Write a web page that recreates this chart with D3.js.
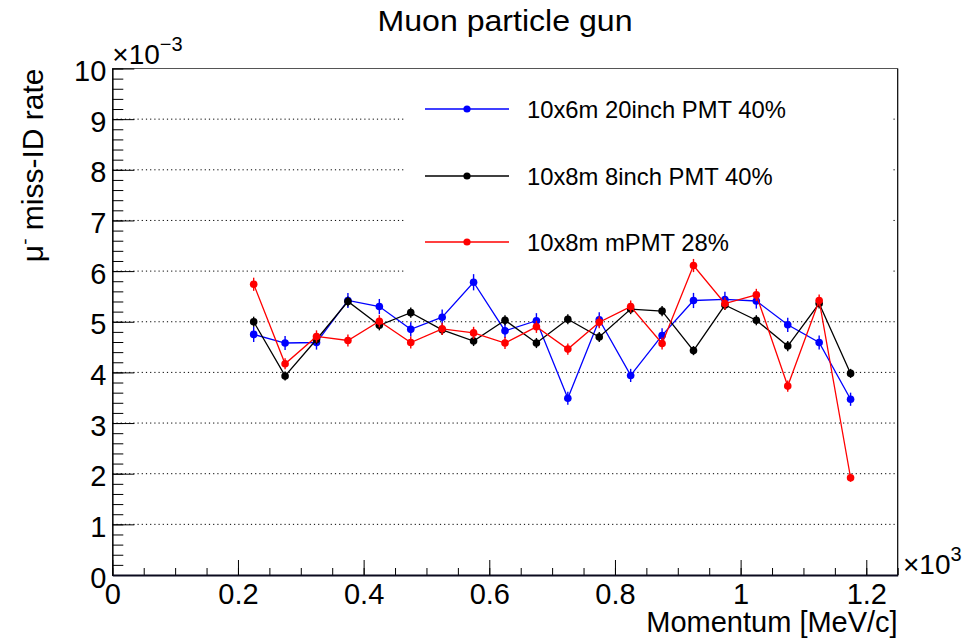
<!DOCTYPE html>
<html>
<head>
<meta charset="utf-8">
<script src="https://cdn.jsdelivr.net/npm/d3@7"></script>
<style>
body { margin: 0; background: #fff; }
text { font-family: "Liberation Sans", Helvetica, Arial, sans-serif; fill: #000; }
</style>
</head>
<body>
<div id="chart"></div>
<script>
// momentum bin centres [MeV/c]
var momentum = [225, 275, 325, 375, 425, 475, 525, 575, 625, 675,
                725, 775, 825, 875, 925, 975, 1025, 1075, 1125, 1175];

// mu- miss-ID rate, in units of 1e-3
var rate20inch = [4.75, 4.58, 4.59, 5.42, 5.30, 4.85, 5.09, 5.78, 4.82, 5.02,
                  3.49, 5.04, 3.94, 4.73, 5.42, 5.44, 5.41, 4.94, 4.59, 3.47];
var err20inch  = [0.15, 0.14, 0.14, 0.15, 0.15, 0.14, 0.15, 0.16, 0.14, 0.15,
                  0.13, 0.15, 0.13, 0.14, 0.15, 0.15, 0.15, 0.14, 0.14, 0.13];

var rate8inch  = [5.00, 3.93, 4.65, 5.40, 4.93, 5.18, 4.84, 4.62, 5.03, 4.58,
                  5.05, 4.70, 5.25, 5.21, 4.43, 5.33, 5.03, 4.52, 5.36, 3.98];
var err8inch   = [0.10, 0.09, 0.10, 0.10, 0.10, 0.10, 0.10, 0.10, 0.10, 0.10,
                  0.10, 0.10, 0.10, 0.10, 0.09, 0.10, 0.10, 0.10, 0.10, 0.09];

var rateMPMT   = [5.74, 4.17, 4.71, 4.63, 5.01, 4.59, 4.86, 4.78, 4.58, 4.90,
                  4.46, 4.99, 5.30, 4.57, 6.11, 5.36, 5.53, 3.73, 5.42, 1.92];
var errMPMT    = [0.13, 0.11, 0.12, 0.12, 0.12, 0.12, 0.12, 0.12, 0.12, 0.12,
                  0.11, 0.12, 0.12, 0.12, 0.13, 0.12, 0.12, 0.11, 0.12, 0.08];

var seriesNames  = ["10x6m 20inch PMT 40%", "10x8m 8inch PMT 40%", "10x8m mPMT 28%"];
var seriesColors = ["#0000ff", "#000000", "#ff0000"];

var xTicks = [0, 200, 400, 600, 800, 1000, 1200];
var yTicks = [0, 1, 2, 3, 4, 5, 6, 7, 8, 9, 10];

var series = [
    { name: seriesNames[0], color: seriesColors[0], y: rate20inch, e: err20inch },
    { name: seriesNames[1], color: seriesColors[1], y: rate8inch,  e: err8inch },
    { name: seriesNames[2], color: seriesColors[2], y: rateMPMT,   e: errMPMT }
];

var W = 972, H = 644;
var padL = 112.3, padR = 897.7, padT = 68.5, padB = 575;

var svg = d3.select("#chart").append("svg")
    .attr("width", W)
    .attr("height", H)
    .style("background", "#fff");

var x = d3.scaleLinear().domain([0, 1250]).range([padL, padR]);
var y = d3.scaleLinear().domain([0, 10]).range([padB, padT]);

// grid (y only, dotted)
svg.append("g").selectAll("line")
    .data(yTicks.filter(function (d) { return d > 0; }))
    .enter().append("line")
    .attr("x1", padL).attr("x2", padR)
    .attr("y1", function (d) { return y(d); })
    .attr("y2", function (d) { return y(d); })
    .attr("stroke", "#000")
    .attr("stroke-width", 1)
    .attr("stroke-dasharray", "1.2,3");

// frame top + right
svg.append("line").attr("x1", padL).attr("x2", padR).attr("y1", padT).attr("y2", padT)
    .attr("stroke", "#555").attr("stroke-width", 1);
svg.append("line").attr("x1", padR).attr("x2", padR).attr("y1", padT).attr("y2", padB)
    .attr("stroke", "#000").attr("stroke-width", 1.2);

// legend (white box, drawn under the data)
var legend = svg.append("g");
legend.append("rect")
    .attr("x", 405).attr("y", 78).attr("width", 488).attr("height", 205)
    .attr("fill", "#fff");
var legY = [109, 176, 242];
series.forEach(function (s, i) {
    legend.append("line")
        .attr("x1", 425).attr("x2", 509)
        .attr("y1", legY[i]).attr("y2", legY[i])
        .attr("stroke", s.color).attr("stroke-width", 1.3);
    legend.append("circle")
        .attr("cx", 467).attr("cy", legY[i]).attr("r", 3.6)
        .attr("fill", s.color);
    legend.append("text")
        .attr("x", 527).attr("y", legY[i])
        .attr("dy", "0.36em")
        .style("font-size", "23.8px")
        .text(s.name);
});

// axes
var yAxis = d3.axisLeft(y).tickValues(yTicks).tickSizeInner(-22).tickSizeOuter(0).tickPadding(6);
var yMinor = d3.axisLeft(y).tickValues(d3.range(0, 10.01, 0.2)).tickSizeInner(-11).tickSizeOuter(0).tickFormat("");
var xAxis = d3.axisBottom(x).tickValues(xTicks).tickSizeInner(-15).tickSizeOuter(0).tickPadding(10)
    .tickFormat(function (d) { return d3.format("~g")(d / 1000); });
var xMinor = d3.axisBottom(x).tickValues(d3.range(0, 1251, 50)).tickSizeInner(-7).tickSizeOuter(0).tickFormat("");

var gy2 = svg.append("g").attr("transform", "translate(" + padL + ",0)").call(yMinor);
var gy = svg.append("g").attr("transform", "translate(" + padL + ",0)").call(yAxis);
var gx2 = svg.append("g").attr("transform", "translate(0," + padB + ")").call(xMinor);
var gx = svg.append("g").attr("transform", "translate(0," + padB + ")").call(xAxis);

[gy, gy2, gx, gx2].forEach(function (g) {
    g.selectAll("line").attr("stroke", "#000").attr("stroke-width", 1);
    g.selectAll("text").style("font-size", "29px").attr("fill", "#000");
    g.select(".domain").attr("stroke", "#000");
});
gy.select(".domain").attr("stroke-width", 1.2);
gx.select(".domain").attr("stroke", "#0a0a1e").attr("stroke-width", 2);
gy.selectAll("text").attr("dy", "0.42em");
gx.selectAll("text").attr("dy", "0.66em");

// data
var line = d3.line()
    .x(function (d, i) { return x(momentum[i]); })
    .y(function (d) { return y(d); });

series.forEach(function (s) {
    var g = svg.append("g");
    g.append("path")
        .datum(s.y)
        .attr("d", line)
        .attr("fill", "none")
        .attr("stroke", s.color)
        .attr("stroke-width", 1.3);
    g.selectAll("line.err")
        .data(s.y)
        .enter().append("line")
        .attr("class", "err")
        .attr("x1", function (d, i) { return x(momentum[i]); })
        .attr("x2", function (d, i) { return x(momentum[i]); })
        .attr("y1", function (d, i) { return y(d + s.e[i]); })
        .attr("y2", function (d, i) { return y(d - s.e[i]); })
        .attr("stroke", s.color)
        .attr("stroke-width", 1.4);
    g.selectAll("circle")
        .data(s.y)
        .enter().append("circle")
        .attr("cx", function (d, i) { return x(momentum[i]); })
        .attr("cy", function (d) { return y(d); })
        .attr("r", 3.8)
        .attr("fill", s.color);
});

// exponent labels
var expY = svg.append("text").attr("x", padL).attr("y", 64).style("font-size", "28px");
expY.append("tspan").text("\u00d710");
expY.append("tspan").attr("dy", -13).style("font-size", "20px").text("\u22123");

var expX = svg.append("text").attr("x", 903).attr("y", 574).style("font-size", "28px");
expX.append("tspan").text("\u00d710");
expX.append("tspan").attr("dy", -13).style("font-size", "20px").text("3");

// titles
svg.append("text")
    .attr("x", 505).attr("y", 31)
    .attr("text-anchor", "middle")
    .style("font-size", "29px")
    .attr("textLength", 255)
    .attr("lengthAdjust", "spacingAndGlyphs")
    .text("Muon particle gun");

svg.append("text")
    .attr("x", padR).attr("y", 632)
    .attr("text-anchor", "end")
    .style("font-size", "29px")
    .text("Momentum [MeV/c]");

var yt = svg.append("text")
    .attr("transform", "translate(43," + padT + ") rotate(-90)")
    .attr("text-anchor", "end")
    .style("font-size", "30px");
yt.append("tspan").text("\u03bc");
yt.append("tspan").attr("dy", -12).style("font-size", "19px").text("-");
yt.append("tspan").attr("dy", 12).text(" miss-ID rate");
</script>
</body>
</html>
